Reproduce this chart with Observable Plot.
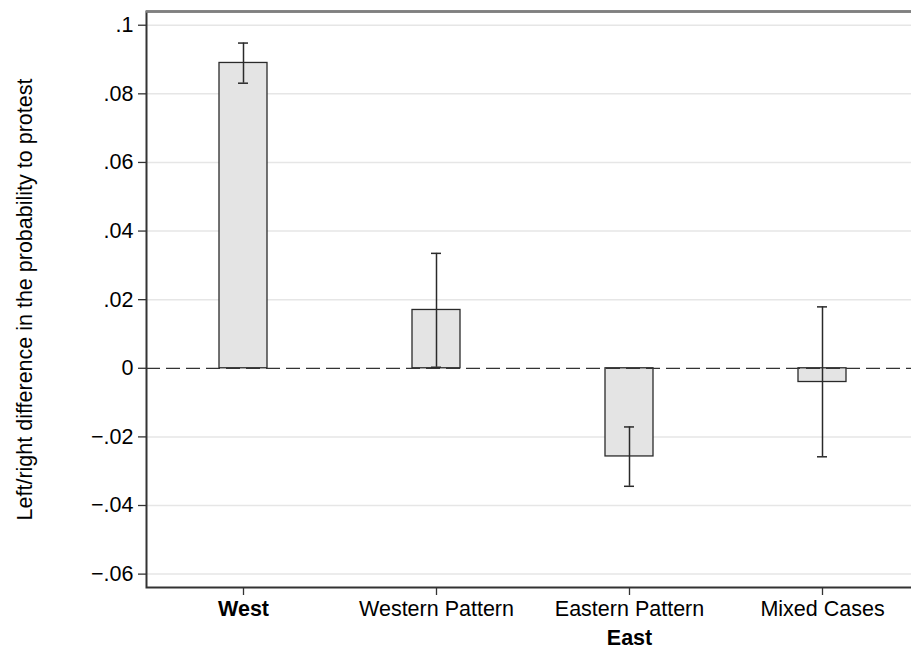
<!DOCTYPE html>
<html>
<head>
<meta charset="utf-8">
<script src="https://cdn.jsdelivr.net/npm/d3@7"></script>
<script src="https://cdn.jsdelivr.net/npm/@observablehq/plot@0.6"></script>
<style>
  html, body { margin: 0; padding: 0; background: #fff; }
  #chart svg { display: block; }
</style>
</head>
<body>
<div id="chart"></div>
<script>
// Data
const categories = ["West", "Western Pattern", "Eastern Pattern", "Mixed Cases"];
const estimates  = [0.0890, 0.0170, -0.0257, -0.0040];
const ciLow      = [0.0831, 0.0003, -0.0344, -0.0258];
const ciHigh     = [0.0948, 0.0335, -0.0171, 0.0179];
const yTicks     = [-0.06, -0.04, -0.02, 0, 0.02, 0.04, 0.06, 0.08, 0.1];
const yDomain    = [-0.0639, 0.104];
const yTitle     = "Left/right difference in the probability to protest";
const groupLabel = "East";
const groupUnder = "Eastern Pattern";

const rows = categories.map((c, i) => ({cat: c, est: estimates[i], lo: ciLow[i], hi: ciHigh[i]}));

const stataFmt = d => {
  if (d === 0) return "0";
  const s = Math.abs(d).toString().replace(/^0\./, ".");
  return (d < 0 ? "\u2212" : "") + s;
};

const FS = 21.5;

const chart = Plot.plot({
  width: 911,
  height: 654,
  marginLeft: 146,
  marginRight: -9,
  marginTop: 11,
  marginBottom: 67,
  style: {fontFamily: "'Liberation Sans', Arial, Helvetica, sans-serif", fontSize: FS + "px", color: "#000", background: "#fff"},
  x: {domain: categories, paddingInner: 0.75, paddingOuter: 0.375, label: null},
  y: {domain: yDomain, label: null},
  marks: [
    Plot.gridY(yTicks.filter(d => d !== 0), {stroke: "#e6e6e6", strokeOpacity: 1, strokeWidth: 1.5}),
    Plot.barY(rows, {x: "cat", y: "est", fill: "#e4e4e4", stroke: "#2a2a2a", strokeWidth: 1.3}),
    Plot.ruleY([0], {stroke: "#333", strokeWidth: 1.3, strokeDasharray: "14,6"}),
    Plot.ruleX(rows, {x: "cat", y1: "lo", y2: "hi", stroke: "#2a2a2a", strokeWidth: 1.5}),
    Plot.tickY(rows, {x: "cat", y: "lo", stroke: "#2a2a2a", strokeWidth: 1.5, insetLeft: 19, insetRight: 19}),
    Plot.tickY(rows, {x: "cat", y: "hi", stroke: "#2a2a2a", strokeWidth: 1.5, insetLeft: 19, insetRight: 19}),
    Plot.frame({stroke: "#333", strokeWidth: 2}),
    Plot.ruleY([yDomain[1]], {stroke: "#808080", strokeWidth: 2.5}),
    Plot.axisY({ticks: yTicks, tickFormat: stataFmt, tickSize: 8, tickPadding: 5, label: null, stroke: "#333", strokeWidth: 1.3, fill: "#000", fontSize: FS}),
    Plot.axisX({tickSize: 8, tickPadding: 5, label: null, stroke: "#333", strokeWidth: 1.3, fill: "#000", fontSize: FS}),
    Plot.text([yTitle], {frameAnchor: "left", textAnchor: "middle", dx: -121, rotate: -90, fill: "#000", fontSize: FS}),
    Plot.text([groupLabel], {x: () => groupUnder, frameAnchor: "bottom", dy: 57, fontWeight: "bold", fill: "#000", fontSize: FS})
  ]
});

// Bold the "West" group tick label
d3.select(chart).selectAll("text")
  .filter(function () { return this.textContent === "West"; })
  .attr("font-weight", "bold");

document.getElementById("chart").appendChild(chart);
</script>
</body>
</html>
